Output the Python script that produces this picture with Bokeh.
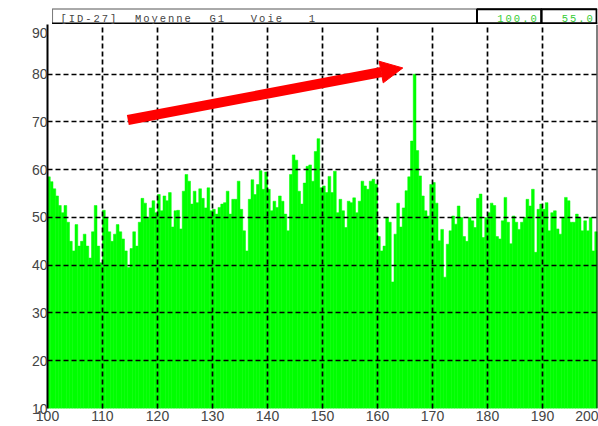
import numpy as np
from bokeh.plotting import figure
from bokeh.models import Range1d, FixedTicker, Span, Arrow, NormalHead
from bokeh.layouts import column
from bokeh.embed import file_html
from bokeh.resources import INLINE
from bokeh.core.properties import value

# ---------------- data ----------------
x_ticks = [100, 110, 120, 130, 140, 150, 160, 170, 180, 190, 200]
y_ticks = [10, 20, 30, 40, 50, 60, 70, 80, 90]
x_grid = [110, 120, 130, 140, 150, 160, 170, 180, 190]
y_grid = [20, 30, 40, 50, 60, 70, 80]

bin_start = 100.0
bin_width = 0.5

level_100 = [58.5, 57.5, 56, 54.5, 52.5, 51, 52.5, 49, 45, 43,
             48.5, 44, 45, 46.5, 44, 41.5, 47, 52.5, 44, 40.5]
level_110 = [51.5, 50, 47, 45, 46.5, 48.5, 47, 45.5, 43, 39.5,
             43.5, 47, 44, 49, 54, 53, 50, 52, 53.5, 51]
level_120 = [54.8, 51.4, 54.5, 53.5, 55.2, 48, 51.4, 51.5, 47.6, 55.5,
             59, 57.6, 52.8, 55.5, 53.1, 56, 54, 52, 56.2, 51.4]
level_130 = [51.7, 50.7, 52.1, 52.8, 53.1, 55.5, 50.7, 53.8, 53.8, 57.6,
             51.7, 47.2, 43, 53.8, 57.9, 54.8, 56.9, 59.8, 55.9, 59.5]
level_140 = [55.9, 51.4, 53.4, 52.1, 54.5, 53.4, 50.7, 47.2, 59, 63.1,
             62, 55.5, 52.8, 57.2, 60.7, 61, 57.6, 63.8, 66.5, 56.2]
level_150 = [56.6, 55.2, 58.6, 55.2, 59.7, 51, 53.8, 51.4, 47.9, 53.4,
             53.1, 54.1, 51, 53.4, 57.6, 56.6, 55.9, 57.6, 58, 57]
level_160 = [46, 43, 44, 50, 49, 36.5, 46.5, 53, 48, 52,
             55.6, 58.5, 66, 80, 64, 58.7, 54.5, 51.4, 50.3, 56.9]
level_170 = [57.3, 53, 45.1, 47.5, 37.5, 44.4, 47.2, 50.3, 48.6, 52.4,
             50, 46, 45, 50, 49.3, 47.9, 54, 54.9, 45.8, 50]
level_180 = [51, 53, 52.5, 46, 45.5, 49.3, 54.2, 49, 44.5, 50.3,
             49, 47.5, 49, 50, 53.8, 52.4, 55.9, 42.7, 51.7, 52.8]
level_190 = [51.7, 53.1, 47.2, 51, 51.4, 47.6, 46.5, 50, 54.2, 53.5,
             49, 49, 50.7, 50, 47.2, 49.3, 47.2, 50, 43, 47]

levels = (level_100 + level_110 + level_120 + level_130 + level_140 +
          level_150 + level_160 + level_170 + level_180 + level_190)
freq = [bin_start + bin_width * (i + 0.5) for i in range(len(levels))]

title_words = ["[ID-27]", "Moyenne", "G1", "Voie", "1"]
title_cols = [0, 9, 18, 23, 30]          # character column of each word
box_values = ["100.0", "55.0"]

# arrow annotation (data space)
arrow_start = (114.6, 70.4)
arrow_end = (164.6, 81.3)

# ---------------- header bar ----------------
W = 598
HH = 24
hdr = figure(width=W, height=HH, x_range=Range1d(0, W), y_range=Range1d(0, HH),
             toolbar_location=None, output_backend="svg", min_border=0,
             x_axis_type=None, y_axis_type=None, outline_line_color=None)
hdr.grid.visible = False
hdr.segment(x0=[5], y0=[15.5], x1=[W], y1=[15.5], line_color="#555555", line_width=1)
hdr.segment(x0=[5.5], y0=[0], x1=[5.5], y1=[15.5], line_color="#777777", line_width=1)
hdr.segment(x0=[5], y0=[1], x1=[W], y1=[1], line_color="black", line_width=2)
hdr.quad(left=[467, 537], right=[537, 597], bottom=[1, 1], top=[15.2, 15.2],
         fill_color=None, line_color="black", line_width=2)

pitch = 9
cx, cy, ct = [], [], []
for w, c0 in zip(title_words, title_cols):
    for j, ch in enumerate(w):
        cx.append(13 + pitch * (c0 + j + 0.5))
        cy.append(6)
        ct.append(ch)
hdr.text(x=cx, y=cy, text=ct, text_font=value("Liberation Mono"), text_font_size="10.5px",
         text_color="#444444", text_align="center", text_baseline="alphabetic")
starts = [488, 558]
for s, val in zip(starts, box_values):
    ch = list(val)
    hdr.text(x=[s + pitch * (i + 0.5) for i in range(len(ch))], y=[6] * len(ch),
             text=ch, text_font=value("Liberation Mono"), text_font_size="10.5px",
             text_color="#33cc33", text_align="center", text_baseline="alphabetic")

# ---------------- main plot ----------------
p = figure(width=W, height=402, x_range=Range1d(100, 200), y_range=Range1d(10, 90.4),
           toolbar_location=None, output_backend="svg",
           min_border_left=47, min_border_right=1, min_border_top=0, min_border_bottom=18,
           outline_line_color=None)

p.vbar(x=freq, width=bin_width, bottom=0, top=levels,
       fill_color="#00ff00", line_color="#00ff00", line_width=0.5)

p.xgrid.ticker = FixedTicker(ticks=x_grid)
p.ygrid.ticker = FixedTicker(ticks=y_grid)
for g in (p.xgrid[0], p.ygrid[0]):
    g.grid_line_color = "black"
    g.grid_line_dash = "5 3"
    g.grid_line_width = 1.7
    g.level = "guide"

# the top label ("90") sits a little below the frame edge, as in the source chart
top_label_pos = 88.7
y_tick_pos = y_ticks[:-1] + [top_label_pos]
p.xaxis.ticker = FixedTicker(ticks=x_ticks)
p.yaxis.ticker = FixedTicker(ticks=y_tick_pos)
p.yaxis.major_label_overrides = {top_label_pos: str(y_ticks[-1])}
p.xaxis.axis_line_color = None
p.yaxis.axis_line_color = "black"
p.yaxis.axis_line_width = 2
for ax in (p.xaxis[0], p.yaxis[0]):
    ax.major_tick_out = 0
    ax.major_tick_in = 0
    ax.minor_tick_line_color = None
    ax.major_tick_line_color = None
    ax.major_label_standoff = 0
    ax.major_label_text_font = "Liberation Sans"
    ax.major_label_text_font_size = "14px"
    ax.major_label_text_color = "#444444"
p.xaxis.major_label_standoff = 2

p.add_layout(Span(location=200, dimension="height", line_color="black", line_width=2))

p.add_layout(Arrow(end=NormalHead(size=22, fill_color="#ff0000", line_color="#ff0000"),
                   x_start=arrow_start[0], y_start=arrow_start[1],
                   x_end=arrow_end[0], y_end=arrow_end[1],
                   line_color="#ff0000", line_width=10))

layout = column(hdr, p, spacing=0)
open("out.html", "w").write(file_html(layout, INLINE))
